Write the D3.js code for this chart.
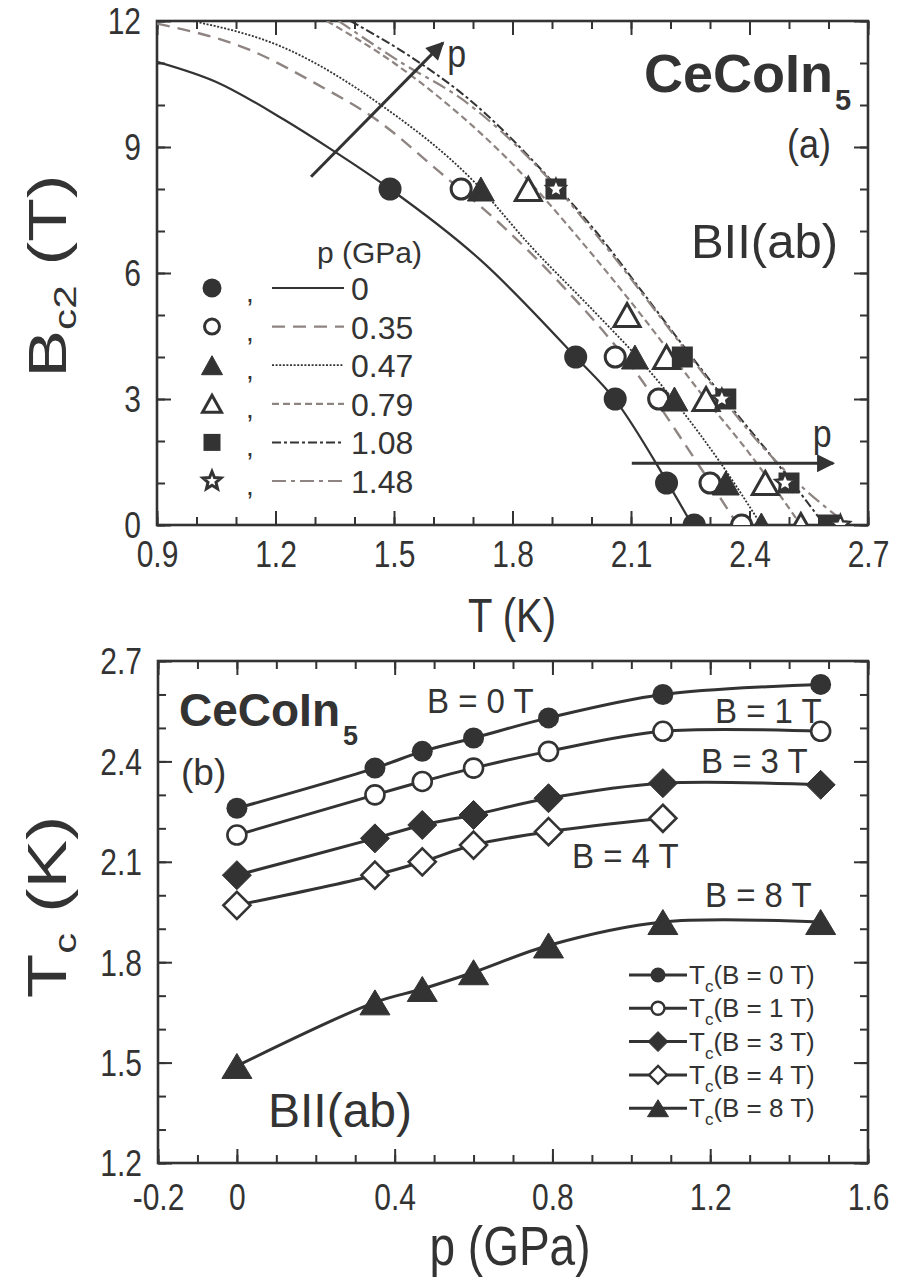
<!DOCTYPE html>
<html>
<head>
<meta charset="utf-8">
<script src="https://cdn.jsdelivr.net/npm/d3@7"></script>
<style>
  body { margin: 0; background: #fff; }
  text { font-family: "Liberation Sans", Arial, Helvetica, sans-serif; fill: #333; }
  .axis path, .axis line { stroke: #333; }
</style>
</head>
<body>
<svg id="chart" width="900" height="1284"></svg>
<script>
// ---------------- Panel (a): Bc2(T) for several pressures ----------------
const pressureLabels = ["0", "0.35", "0.47", "0.79", "1.08", "1.48"];

// measured points: field B (T) and transition temperature T (K)
const fieldP000 = [8, 4, 3, 1, 0];
const tempP000  = [1.49, 1.96, 2.06, 2.19, 2.26];
const fieldP035 = [8, 4, 3, 1, 0];
const tempP035  = [1.67, 2.06, 2.17, 2.30, 2.38];
const fieldP047 = [8, 4, 3, 1, 0];
const tempP047  = [1.72, 2.11, 2.21, 2.34, 2.43];
const fieldP079 = [8, 5, 4, 3, 1, 0];
const tempP079  = [1.84, 2.09, 2.19, 2.29, 2.44, 2.53];
const fieldP108 = [8, 4, 3, 1, 0];
const tempP108  = [1.91, 2.23, 2.34, 2.50, 2.60];
const fieldP148 = [8, 3, 1, 0];
const tempP148  = [1.91, 2.33, 2.49, 2.63];

// fitted Bc2(T) curves, sampled along each curve
const fitTP000 = [0.90, 1.05, 1.22, 1.34, 1.49, 1.72, 1.96, 2.06, 2.19, 2.255];
const fitBP000 = [11.03, 10.55, 9.66, 8.95, 8.0, 6.3, 4.0, 2.98, 1.05, 0];
const fitTP035 = [0.90, 1.135, 1.30, 1.46, 1.616, 1.777, 1.929, 2.102, 2.241, 2.351, 2.37];
const fitBP035 = [11.94, 11.31, 10.52, 9.62, 8.4, 7.10, 5.67, 3.77, 1.86, 0.28, 0];
const fitTP047 = [0.99, 1.22, 1.47, 1.70, 1.85, 2.00, 2.13, 2.325, 2.43];
const fitBP047 = [12.0, 11.37, 9.98, 8.2, 6.6, 5.15, 3.85, 1.5, 0];
const fitTP079 = [1.33, 1.50, 1.625, 1.81, 1.97, 2.13, 2.28, 2.40, 2.47, 2.53];
const fitBP079 = [12.0, 11.0, 10.1, 8.5, 6.8, 4.95, 3.1, 1.7, 0.8, 0];
const fitTP108 = [1.39, 1.55, 1.692, 1.878, 2.01, 2.144, 2.25, 2.35, 2.47, 2.59];
const fitBP108 = [12.0, 11.1, 10.12, 8.41, 7.0, 5.36, 4.05, 2.85, 1.47, 0];
const fitTP148 = [1.36, 1.52, 1.675, 1.887, 2.03, 2.17, 2.30, 2.42, 2.511, 2.65];
const fitBP148 = [12.0, 11.0, 10.12, 8.29, 6.7, 5.0, 3.4, 2.0, 1.1, 0];

const xTicksA = [0.9, 1.2, 1.5, 1.8, 2.1, 2.4, 2.7];
const yTicksA = [0, 3, 6, 9, 12];

// ---------------- Panel (b): Tc(p) at fixed fields ----------------
const pressureB = [0, 0.35, 0.47, 0.6, 0.79, 1.08, 1.48];
const tcB0 = [2.26, 2.38, 2.43, 2.47, 2.53, 2.60, 2.63];
const tcB1 = [2.18, 2.30, 2.34, 2.38, 2.43, 2.49, 2.49];
const tcB3 = [2.06, 2.17, 2.21, 2.24, 2.29, 2.335, 2.33];
const tcB4 = [1.97, 2.06, 2.10, 2.15, 2.19, 2.23];
const tcB8 = [1.49, 1.68, 1.72, 1.77, 1.85, 1.92, 1.92];
const fieldNames = ["0", "1", "3", "4", "8"];

const xTicksB = [-0.2, 0, 0.4, 0.8, 1.2, 1.6];
const yTicksB = [1.2, 1.5, 1.8, 2.1, 2.4, 2.7];

// ---------------- drawing ----------------
const ink = "#333333";
const gray = "#8e8582";
const svg = d3.select("#chart");
const TICK_FONT = 30, TICK_SY = 1.2;

const boxA = { left: 157, right: 868, top: 21, bottom: 525 };
const boxB = { left: 158, right: 868, top: 661, bottom: 1163 };

const xA = d3.scaleLinear().domain([0.9, 2.7]).range([boxA.left, boxA.right]);
const yA = d3.scaleLinear().domain([0, 12]).range([boxA.bottom, boxA.top]);
const xB = d3.scaleLinear().domain([-0.2, 1.6]).range([boxB.left, boxB.right]);
const yB = d3.scaleLinear().domain([1.2, 2.7]).range([boxB.bottom, boxB.top]);

const seq = (a, b, step) => d3.range(Math.round((b - a) / step) + 1).map(i => +(a + i * step).toFixed(4));

// text helper: position, optional rotation and stretch
function label(parent, x, y, str, o = {}) {
  const size = o.size || 30, sx = o.sx || 1, sy = o.sy || 1;
  const t = parent.append("text")
    .attr("transform", `translate(${x},${y})` + (o.rotate ? ` rotate(${o.rotate})` : "") + ` scale(${sx},${sy})`)
    .attr("text-anchor", o.anchor || "start")
    .style("font-size", size + "px");
  if (o.bold) t.style("font-weight", "bold");
  if (str != null) t.text(str);
  return t;
}

// framed axes with inward ticks on all four sides
function drawFrame(box, x, y, xMajor, xMinor, yMajor, yMinor, xFmt, yFmt, xLabelOffset) {
  const g = svg.append("g");
  const capH = 0.716 * TICK_FONT * TICK_SY;
  const styleAxis = sel => {
    sel.attr("class", "axis");
    sel.select(".domain").remove();
    sel.selectAll("line").attr("stroke-width", 2);
    sel.selectAll("text").style("font-size", TICK_FONT + "px").attr("fill", ink);
  };
  const majLen = 14, minLen = 8;
  // bottom
  g.append("g").attr("transform", `translate(0,${box.bottom})`)
    .call(d3.axisBottom(x).tickValues(xMinor).tickSizeInner(-minLen).tickSizeOuter(0).tickFormat(""))
    .call(styleAxis);
  g.append("g").attr("transform", `translate(0,${box.bottom})`)
    .call(d3.axisBottom(x).tickValues(xMajor).tickSizeInner(-majLen).tickSizeOuter(0).tickFormat(xFmt))
    .call(styleAxis)
    .call(s => s.selectAll(".tick text").attr("y", null).attr("dy", null)
      .attr("transform", `translate(0,${xLabelOffset}) scale(1,${TICK_SY})`));
  // top
  g.append("g").attr("transform", `translate(0,${box.top})`)
    .call(d3.axisTop(x).tickValues(xMinor).tickSizeInner(-minLen).tickSizeOuter(0).tickFormat(""))
    .call(styleAxis);
  g.append("g").attr("transform", `translate(0,${box.top})`)
    .call(d3.axisTop(x).tickValues(xMajor).tickSizeInner(-majLen).tickSizeOuter(0).tickFormat(""))
    .call(styleAxis);
  // left
  g.append("g").attr("transform", `translate(${box.left},0)`)
    .call(d3.axisLeft(y).tickValues(yMinor).tickSizeInner(-minLen).tickSizeOuter(0).tickFormat(""))
    .call(styleAxis);
  g.append("g").attr("transform", `translate(${box.left},0)`)
    .call(d3.axisLeft(y).tickValues(yMajor).tickSizeInner(-majLen).tickSizeOuter(0).tickFormat(yFmt))
    .call(styleAxis)
    .call(s => s.selectAll(".tick text").attr("x", null).attr("dy", null)
      .attr("transform", `translate(-16,${capH / 2}) scale(1,${TICK_SY})`));
  // right
  g.append("g").attr("transform", `translate(${box.right},0)`)
    .call(d3.axisRight(y).tickValues(yMinor).tickSizeInner(-minLen).tickSizeOuter(0).tickFormat(""))
    .call(styleAxis);
  g.append("g").attr("transform", `translate(${box.right},0)`)
    .call(d3.axisRight(y).tickValues(yMajor).tickSizeInner(-majLen).tickSizeOuter(0).tickFormat(""))
    .call(styleAxis);
  g.append("rect")
    .attr("x", box.left).attr("y", box.top)
    .attr("width", box.right - box.left).attr("height", box.bottom - box.top)
    .attr("fill", "none").attr("stroke", ink).attr("stroke-width", 2.6);
  return g;
}

// marker shapes
function marker(g, kind, cx, cy, s) {
  const t = `translate(${cx},${cy})`;
  switch (kind) {
    case "circle":
      g.append("circle").attr("cx", cx).attr("cy", cy).attr("r", s.r).attr("fill", ink);
      break;
    case "ocircle":
      g.append("circle").attr("cx", cx).attr("cy", cy).attr("r", s.r)
        .attr("fill", "#fff").attr("stroke", ink).attr("stroke-width", s.sw);
      break;
    case "tri":
    case "otri": {
      const p = `M0,${-s.h / 2}L${s.w / 2},${s.h / 2}L${-s.w / 2},${s.h / 2}Z`;
      g.append("path").attr("d", p).attr("transform", t)
        .attr("fill", kind === "tri" ? ink : "#fff")
        .attr("stroke", ink).attr("stroke-width", kind === "tri" ? 1 : s.sw)
        .attr("stroke-linejoin", "miter");
      break;
    }
    case "square":
      g.append("rect").attr("x", cx - s.a / 2).attr("y", cy - s.a / 2)
        .attr("width", s.a).attr("height", s.a).attr("fill", ink);
      break;
    case "star": {
      const pts = d3.range(10).map(i => {
        const ang = -Math.PI / 2 + i * Math.PI / 5;
        const rr = i % 2 ? s.ri : s.ro;
        return [rr * Math.cos(ang), rr * Math.sin(ang)];
      });
      g.append("path").attr("d", "M" + pts.join("L") + "Z").attr("transform", t)
        .attr("fill", "#fff").attr("stroke", ink).attr("stroke-width", s.sw)
        .attr("stroke-linejoin", "miter");
      break;
    }
    case "diamond":
    case "odiamond": {
      const d = s.d;
      g.append("path").attr("d", `M0,${-d}L${d},0L0,${d}L${-d},0Z`).attr("transform", t)
        .attr("fill", kind === "diamond" ? ink : "#fff")
        .attr("stroke", ink).attr("stroke-width", kind === "diamond" ? 1 : s.sw);
      break;
    }
  }
}

// ===== Panel (a) =====
drawFrame(boxA, xA, yA, xTicksA, seq(0.9, 2.7, 0.1), yTicksA, seq(0, 12, 1),
  d => d.toFixed(1), d => d3.format("d")(d), 42);

svg.append("clipPath").attr("id", "clipA").append("rect")
  .attr("x", boxA.left).attr("y", boxA.top)
  .attr("width", boxA.right - boxA.left).attr("height", boxA.bottom - boxA.top);

const fitsA = [
  [fitTP000, fitBP000], [fitTP035, fitBP035], [fitTP047, fitBP047],
  [fitTP079, fitBP079], [fitTP108, fitBP108], [fitTP148, fitBP148]
];
const lineStylesA = [
  { color: ink,  dash: null,        width: 2.2 },
  { color: gray, dash: "13,8",      width: 2.4 },
  { color: ink,  dash: "2,1.6",     width: 1.8 },
  { color: gray, dash: "7,4",       width: 2.2 },
  { color: ink,  dash: "9,3,3,3",   width: 2.0 },
  { color: gray, dash: "14,5,4,5",  width: 2.2 }
];
const pointsA = [
  [fieldP000, tempP000], [fieldP035, tempP035], [fieldP047, tempP047],
  [fieldP079, tempP079], [fieldP108, tempP108], [fieldP148, tempP148]
];
const kindsA = ["circle", "ocircle", "tri", "otri", "square", "star"];
const sizeA = {
  circle:  { r: 11.5 },
  ocircle: { r: 10, sw: 3 },
  tri:     { w: 27, h: 24 },
  otri:    { w: 26, h: 23, sw: 3 },
  square:  { a: 21 },
  star:    { ro: 10, ri: 4.6, sw: 2.4 }
};
const sizeLegA = {
  circle:  { r: 9.5 },
  ocircle: { r: 7.5, sw: 3 },
  tri:     { w: 21, h: 19 },
  otri:    { w: 19, h: 17, sw: 3 },
  square:  { a: 17 },
  star:    { ro: 9.5, ri: 4.2, sw: 3 }
};

const plotA = svg.append("g").attr("clip-path", "url(#clipA)");
const lineA = d3.line().curve(d3.curveMonotoneX);
fitsA.forEach(([ts, bs], i) => {
  const st = lineStylesA[i];
  plotA.append("path")
    .attr("d", lineA(ts.map((t, k) => [xA(t), yA(bs[k])])))
    .attr("fill", "none").attr("stroke", st.color).attr("stroke-width", st.width)
    .attr("stroke-dasharray", st.dash);
});
pointsA.forEach(([bs, ts], i) => {
  bs.forEach((b, k) => marker(plotA, kindsA[i], xA(ts[k]), yA(b), sizeA[kindsA[i]]));
});

// pressure arrows
svg.append("defs").append("marker")
  .attr("id", "head").attr("viewBox", "0 0 10 10").attr("refX", 9).attr("refY", 5)
  .attr("markerWidth", 7).attr("markerHeight", 6).attr("markerUnits", "strokeWidth")
  .attr("orient", "auto")
  .append("path").attr("d", "M0,0L10,5L0,10Z").attr("fill", ink);
const arrowsA = [
  { from: [1.29, 8.29], to: [1.624, 11.48], label: [1.635, 10.9] },
  { from: [2.102, 1.47], to: [2.612, 1.47], label: [2.56, 1.85] }
];
arrowsA.forEach(a => {
  svg.append("line")
    .attr("x1", xA(a.from[0])).attr("y1", yA(a.from[1]))
    .attr("x2", xA(a.to[0])).attr("y2", yA(a.to[1]))
    .attr("stroke", ink).attr("stroke-width", 3).attr("marker-end", "url(#head)");
  label(svg, xA(a.label[0]), yA(a.label[1]), "p", { size: 34, sy: 1.15 });
});

// compound label and field orientation
label(svg, 833, 92, "CeCoIn", { size: 54, bold: true, anchor: "end" });
label(svg, 835, 110, "5", { size: 29, bold: true });
label(svg, 831, 158, "(a)", { size: 36, sy: 1.15, anchor: "end" });
label(svg, 838, 258, "BII(ab)", { size: 49, anchor: "end" });

// legend (a)
label(svg, 317, 263, "p (GPa)", { size: 30 });
pressureLabels.forEach((lab, i) => {
  const cy = 288 + i * 38.6;
  const k = kindsA[i];
  marker(svg, k, 212, cy, sizeLegA[k]);
  label(svg, 246, cy + 14, ",", { size: 28 });
  const st = lineStylesA[i];
  svg.append("line").attr("x1", 272).attr("x2", 344).attr("y1", cy).attr("y2", cy)
    .attr("stroke", st.color).attr("stroke-width", st.width).attr("stroke-dasharray", st.dash);
  label(svg, 351, cy + 12, lab, { size: 32 });
});

// axis titles (a)
const tA = label(svg, 66, 276, null, { size: 54, rotate: -90, sx: 1.32, anchor: "middle" });
tA.append("tspan").text("B");
tA.append("tspan").attr("dy", 10).style("font-size", "32px").text("c2");
tA.append("tspan").attr("dy", -10).text(" (T)");
label(svg, 512, 632, "T (K)", { size: 40, sy: 1.19, anchor: "middle" });

// ===== Panel (b) =====
drawFrame(boxB, xB, yB, xTicksB, seq(-0.2, 1.6, 0.1), yTicksB, seq(1.2, 2.7, 0.1),
  d => String(+d.toFixed(1)).replace("\u2212", "-"), d => d.toFixed(1), 47);

const seriesB = [tcB0, tcB1, tcB3, tcB4, tcB8];
const kindsB = ["circle", "ocircle", "diamond", "odiamond", "tri"];
const sizeB = {
  circle:   { r: 10.5 },
  ocircle:  { r: 9.5, sw: 2.6 },
  diamond:  { d: 14.5 },
  odiamond: { d: 13.5, sw: 2.6 },
  tri:      { w: 30, h: 25 }
};
const sizeLegB = {
  circle:   { r: 7.5 },
  ocircle:  { r: 6.5, sw: 2.4 },
  diamond:  { d: 10 },
  odiamond: { d: 9, sw: 2.4 },
  tri:      { w: 21, h: 17 }
};
const lineB = d3.line().curve(d3.curveCatmullRom.alpha(0.5));
seriesB.forEach(tc => {
  const pts = tc.map((v, k) => [xB(pressureB[k]), yB(v)]);
  svg.append("path").attr("d", lineB(pts)).attr("fill", "none")
    .attr("stroke", ink).attr("stroke-width", 3);
});
seriesB.forEach((tc, i) => {
  tc.forEach((v, k) => marker(svg, kindsB[i], xB(pressureB[k]), yB(v), sizeB[kindsB[i]]));
});

// field labels on the curves
const fieldLabelPos = [[427, 713], [715, 723], [701, 773], [572, 868], [705, 907]];
fieldNames.forEach((f, i) => {
  label(svg, fieldLabelPos[i][0], fieldLabelPos[i][1], `B = ${f} T`, { size: 33, sy: 1.06 });
});

label(svg, 179, 726, "CeCoIn", { size: 46, bold: true });
label(svg, 343, 745, "5", { size: 27, bold: true });
label(svg, 181, 785, "(b)", { size: 37 });
label(svg, 268, 1127, "BII(ab)", { size: 48 });

// legend (b)
fieldNames.forEach((f, i) => {
  const cy = 975 + i * 33.3;
  svg.append("line").attr("x1", 629).attr("x2", 687).attr("y1", cy).attr("y2", cy)
    .attr("stroke", ink).attr("stroke-width", 3);
  marker(svg, kindsB[i], 658, cy, sizeLegB[kindsB[i]]);
  const t = label(svg, 689, cy + 9, null, { size: 26 });
  t.append("tspan").text("T");
  t.append("tspan").attr("dy", 8).style("font-size", "17px").text("c");
  t.append("tspan").attr("dy", -8).text(`(B = ${f} T)`);
});

// axis titles (b)
const tB = label(svg, 66, 907, null, { size: 56, rotate: -90, sx: 1.3, anchor: "middle" });
tB.append("tspan").text("T");
tB.append("tspan").attr("dy", 10).style("font-size", "32px").text("c");
tB.append("tspan").attr("dy", -10).text(" (K)");
label(svg, 510, 1265, "p (GPa)", { size: 46, sy: 1.2, anchor: "middle" });
</script>
</body>
</html>
